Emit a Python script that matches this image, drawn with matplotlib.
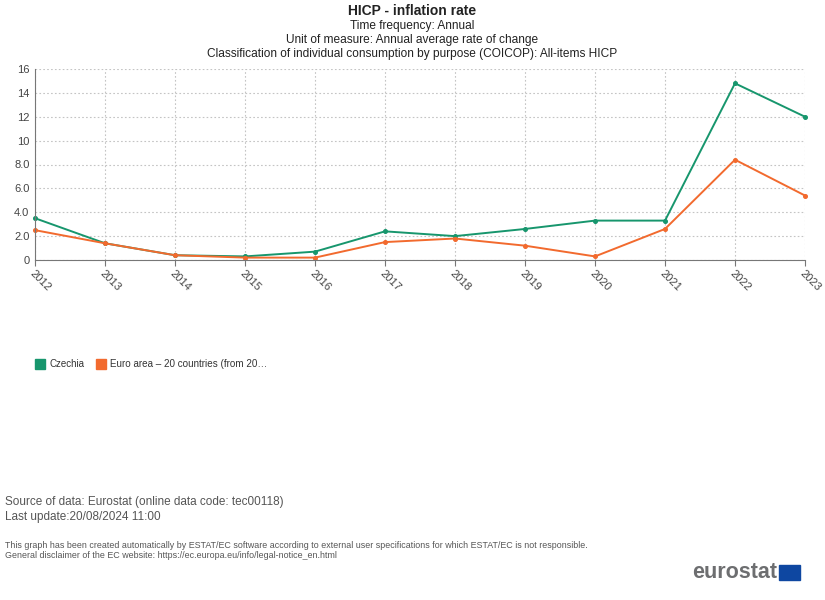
import matplotlib.pyplot as plt
from matplotlib.patches import Rectangle

years = ['2012', '2013', '2014', '2015', '2016', '2017', '2018', '2019', '2020', '2021', '2022', '2023']
czechia = [3.5, 1.4, 0.4, 0.3, 0.7, 2.4, 2.0, 2.6, 3.3, 3.3, 14.8, 12.0]
euro_area = [2.5, 1.4, 0.4, 0.2, 0.2, 1.5, 1.8, 1.2, 0.3, 2.6, 8.4, 5.4]
y_ticks = [0, 2, 4, 6, 8, 10, 12, 14, 16]
y_tick_labels = ['0', '2.0', '4.0', '6.0', '8.0', '10', '12', '14', '16']

green = '#17966d'
orange = '#f26a2e'
grey_txt = '#555555'

plt.rcParams['font.family'] = ['Liberation Sans', 'DejaVu Sans']

fig = plt.figure(figsize=(8.25, 6), dpi=100)
W, H = 825, 600

# zone du graphique
ax = fig.add_axes([35 / W, 1 - 260 / H, 770 / W, 191 / H])
x = list(range(len(years)))
ax.plot(x, czechia, color=green, lw=1.4, marker='o', ms=2.6, clip_on=False)
ax.plot(x, euro_area, color=orange, lw=1.4, marker='o', ms=2.6, clip_on=False)

ax.set_xlim(0, len(years) - 1)
ax.set_ylim(0, 16)
ax.set_xticks(x)
ax.set_xticklabels(years, rotation=-45, ha='left', va='top', fontsize=8, color='#444444',
                   rotation_mode='anchor')
ax.set_yticks(y_ticks)
ax.set_yticklabels(y_tick_labels, fontsize=8, color='#444444')
ax.grid(True, color='#c4c4c4', linestyle=(0, (1.5, 2)), lw=0.8)
for s in ['top', 'right']:
    ax.spines[s].set_visible(False)
ax.spines['left'].set_color('#777777')
ax.spines['bottom'].set_color('#777777')
ax.tick_params(axis='x', length=4, color='#777777', pad=2)
ax.tick_params(axis='y', length=0, pad=4)

# titres
fig.text(412 / W, 1 - 11 / H, 'HICP - inflation rate', ha='center', va='center',
         fontsize=10, fontweight='bold', color='#222222')
fig.text(412 / W, 1 - 26 / H, 'Time frequency: Annual', ha='center', va='center', fontsize=8.6, color='#222222')
fig.text(412 / W, 1 - 40 / H, 'Unit of measure: Annual average rate of change', ha='center', va='center',
         fontsize=8.6, color='#222222')
fig.text(412 / W, 1 - 54 / H, 'Classification of individual consumption by purpose (COICOP): All-items HICP',
         ha='center', va='center', fontsize=8.6, color='#222222')

# légende
fig.patches.append(Rectangle((35 / W, 1 - 369 / H), 10 / W, 10 / H, transform=fig.transFigure,
                             color=green, figure=fig))
fig.text(49 / W, 1 - 364 / H, 'Czechia', va='center', fontsize=7, color='#333333')
fig.patches.append(Rectangle((96 / W, 1 - 369 / H), 10 / W, 10 / H, transform=fig.transFigure,
                             color=orange, figure=fig))
fig.text(110 / W, 1 - 364 / H, 'Euro area – 20 countries (from 20…', va='center', fontsize=7.1, color='#333333')

# source
fig.text(5 / W, 1 - 502 / H, 'Source of data: Eurostat (online data code: tec00118)', va='center',
         fontsize=8.5, color=grey_txt)
fig.text(5 / W, 1 - 517 / H, 'Last update:20/08/2024 11:00', va='center', fontsize=8.5, color=grey_txt)
fig.text(5 / W, 1 - 545 / H, 'This graph has been created automatically by ESTAT/EC software according to '
         'external user specifications for which ESTAT/EC is not responsible.', va='center',
         fontsize=6.4, color=grey_txt)
fig.text(5 / W, 1 - 556 / H, 'General disclaimer of the EC website: https://ec.europa.eu/info/legal-notice_en.html',
         va='center', fontsize=6.4, color=grey_txt)

# logo
fig.text(777 / W, 1 - 573 / H, 'eurostat', ha='right', va='center', fontsize=15.5, fontweight='bold',
         color='#6d6e70')
fig.patches.append(Rectangle((779 / W, 1 - 580 / H), 21 / W, 15 / H, transform=fig.transFigure,
                             color='#0e47a1', figure=fig))

fig.savefig('out.png', dpi=100)
